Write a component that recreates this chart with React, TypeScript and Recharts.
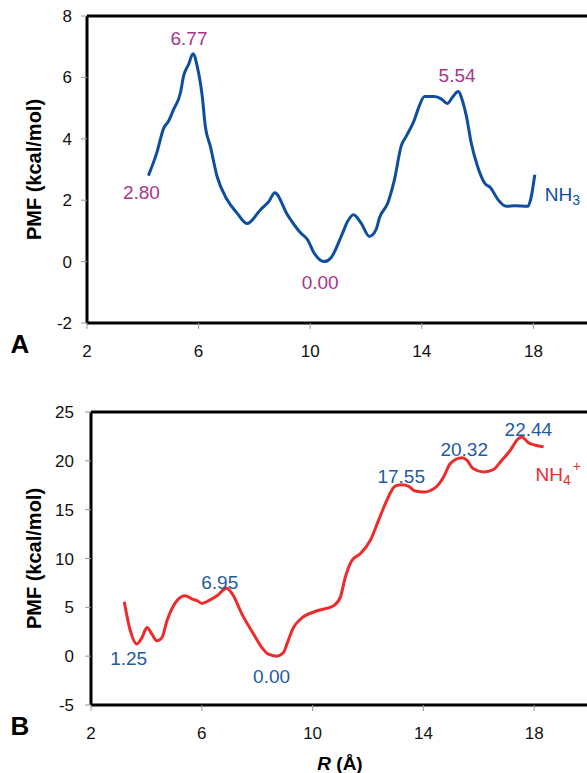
import React from "react";
import {
  LineChart,
  Line,
  XAxis,
  YAxis,
  ReferenceDot,
  ReferenceLine,
} from "recharts";

const FONT = '"Liberation Sans", Arial, sans-serif';

// panel A: NH3
const rA = [
  4.2, 4.5, 4.75, 4.92, 5.1, 5.35, 5.46, 5.64, 5.8, 5.95, 6.13, 6.24, 6.42, 6.66,
  7.02, 7.38, 7.74, 8.22, 8.52, 8.73, 9.18, 9.66, 9.9, 10.14, 10.5, 10.74, 11.16,
  11.34, 11.55, 11.82, 12.12, 12.36, 12.48, 12.78, 13.02, 13.26, 13.44, 13.74,
  13.86, 14.1, 14.45, 14.7, 14.91, 15.12, 15.3, 15.48, 15.6, 15.77, 16.0, 16.25,
  16.47, 16.73, 17.03, 17.33, 17.8, 17.9, 18.05,
];
const pmfA = [
  2.8, 3.54, 4.35, 4.57, 4.95, 5.5, 6.04, 6.42, 6.77, 6.36, 5.39, 4.41, 3.76, 2.78,
  2.02, 1.58, 1.24, 1.69, 1.96, 2.24, 1.53, 0.93, 0.72, 0.28, 0.0, 0.12, 0.93,
  1.31, 1.53, 1.26, 0.82, 1.04, 1.42, 1.91, 2.67, 3.76, 4.08, 4.63,
  4.95, 5.38, 5.38, 5.3, 5.15, 5.38, 5.54, 5.17, 4.73, 3.87, 3.1, 2.56,
  2.4, 2.02, 1.8, 1.82, 1.8, 2.02, 2.83,
];
const marksA = [
  { r: 4.2, pmf: 2.8 },
  { r: 5.8, pmf: 6.77 },
  { r: 10.5, pmf: 0.0 },
  { r: 15.3, pmf: 5.54 },
];
const ticksYA = [-2, 0, 2, 4, 6, 8];

// panel B: NH4+
const rB = [
  3.2, 3.42, 3.65, 3.84, 4.02, 4.2, 4.38, 4.56, 4.74, 5.1, 5.4, 5.65, 5.83, 6.0,
  6.25, 6.55, 6.9, 7.1, 7.45, 7.87, 8.17, 8.41, 8.7, 8.95, 9.07, 9.31, 9.56,
  10.16, 10.76, 11.0, 11.18, 11.42, 11.72, 12.08, 12.38, 12.68, 12.98, 13.2,
  13.46, 13.7, 14.0, 14.43, 14.73, 14.97, 15.4, 15.57, 15.79, 16.17, 16.53,
  16.78, 17.14, 17.4, 17.55, 17.8, 18.04, 18.34,
];
const pmfB = [
  5.58, 2.6, 1.25, 1.9, 2.93, 2.25, 1.57, 1.9, 3.6, 5.68, 6.19, 5.85, 5.68, 5.4,
  5.68, 6.19, 6.95, 6.37, 4.31, 2.26, 0.88, 0.2, 0.0, 0.37, 1.22, 2.93, 3.78,
  4.65, 5.17, 6.02, 8.08, 9.79, 10.48, 11.84, 13.9, 15.96, 17.4, 17.55,
  17.4, 16.91, 16.8, 17.26, 18.35, 19.72, 20.32, 20.07, 19.21, 18.86, 19.11,
  19.89, 21.09, 22.2, 22.44, 21.84, 21.6, 21.43,
];
const marksB = [
  { r: 3.65, pmf: 1.25 },
  { r: 6.9, pmf: 6.95 },
  { r: 8.7, pmf: 0.0 },
  { r: 13.2, pmf: 17.55 },
  { r: 15.4, pmf: 20.32 },
  { r: 17.5, pmf: 22.44 },
];
const ticksYB = [-5, 0, 5, 10, 15, 20, 25];

const ticksX = [2, 6, 10, 14, 18];

const dataA = rA.map((r, i) => ({ r, pmf: pmfA[i] }));
const dataB = rB.map((r, i) => ({ r, pmf: pmfB[i] }));

// label offsets (px) from each marked point
const offA = [
  [-7, 17],
  [-4, -15],
  [-4, 21],
  [-1, -16],
];
const offB = [
  [-8, 15],
  [-7, -6],
  [-5, 20],
  [0, -8],
  [2, -8],
  [8, -8],
];

const valueLabel = (text: string, dx: number, dy: number, color: string) => (props: any) => {
  const vb = props.viewBox || {};
  return (
    <text
      x={vb.x + dx}
      y={vb.y + dy}
      textAnchor="middle"
      dominantBaseline="central"
      fontSize={19}
      fontFamily={FONT}
      fill={color}
    >
      {text}
    </text>
  );
};

const speciesLabel = (kind: "A" | "B", dx: number, dy: number, color: string) => (props: any) => {
  const vb = props.viewBox || {};
  return (
    <text
      x={vb.x + dx}
      y={vb.y + dy}
      dominantBaseline="central"
      fontSize={19}
      fontFamily={FONT}
      fill={color}
    >
      NH
      <tspan fontSize={14} dy={5}>
        {kind === "A" ? "3" : "4"}
      </tspan>
      {kind === "B" && (
        <tspan fontSize={14} dy={-14} dx={2}>
          +
        </tspan>
      )}
    </text>
  );
};

const yLabel = (props: any) => {
  const vb = props.viewBox || {};
  const cx = vb.x + 34;
  const cy = vb.y + vb.height / 2;
  return (
    <text
      x={cx}
      y={cy}
      transform={`rotate(-90, ${cx}, ${cy})`}
      textAnchor="middle"
      dominantBaseline="central"
      fontSize={20}
      fontWeight="bold"
      fontFamily={FONT}
      fill="#000"
    >
      PMF (kcal/mol)
    </text>
  );
};

const xLabel = (panel: string, withR: boolean) => (props: any) => {
  const vb = props.viewBox || {};
  return (
    <g>
      <text
        x={20}
        y={vb.y + 21}
        textAnchor="middle"
        dominantBaseline="central"
        fontSize={26}
        fontWeight="bold"
        fontFamily={FONT}
        fill="#000"
      >
        {panel}
      </text>
      {withR && (
        <text
          x={340}
          y={vb.y + 58}
          textAnchor="middle"
          dominantBaseline="central"
          fontSize={19}
          fontWeight="bold"
          fontFamily={FONT}
          fill="#000"
        >
          <tspan fontStyle="italic">R</tspan> (Å)
        </text>
      )}
    </g>
  );
};

const axisLine = { stroke: "#000", strokeWidth: 3 };
const tickLine = { stroke: "#999", strokeWidth: 1 };
const tick = { fontSize: 17, fill: "#111", fontFamily: FONT };

export default function App() {
  return (
    <div
      style={{
        position: "fixed",
        left: 0,
        top: 0,
        width: 587,
        height: 773,
        overflow: "hidden",
        background: "#fff",
      }}
    >
      <div style={{ position: "absolute", left: 0, top: 0 }}>
        <LineChart
          width={660}
          height={360}
          data={dataA}
          margin={{ top: 16, right: 15, bottom: 7, left: 0 }}
        >
          <XAxis
            type="number"
            dataKey="r"
            domain={[2, 22]}
            ticks={ticksX}
            allowDataOverflow
            height={30}
            axisLine={axisLine}
            tickLine={tickLine}
            tickSize={6}
            tickMargin={16}
            tick={tick}
            label={{ content: xLabel("A", false) }}
          />
          <YAxis
            type="number"
            domain={[-2, 8]}
            ticks={ticksYA}
            allowDataOverflow
            width={87}
            axisLine={axisLine}
            tickLine={tickLine}
            tickSize={6}
            tickMargin={9}
            tick={tick}
            label={{ content: yLabel }}
          />
          <ReferenceLine y={8} stroke="#000" strokeWidth={3} />
          <ReferenceLine x={22} stroke="#000" strokeWidth={3} />
          <Line
            type="monotone"
            dataKey="pmf"
            stroke="#0d4f9e"
            strokeWidth={3}
            dot={false}
            isAnimationActive={false}
          />
          {marksA.map((m, i) => (
            <ReferenceDot
              key={i}
              x={m.r}
              y={m.pmf}
              r={0}
              fill="none"
              stroke="none"
              label={{ content: valueLabel(m.pmf.toFixed(2), offA[i][0], offA[i][1], "#a8368e") }}
            />
          ))}
          <ReferenceDot
            x={rA[rA.length - 1]}
            y={pmfA[pmfA.length - 1]}
            r={0}
            fill="none"
            stroke="none"
            label={{ content: speciesLabel("A", 10, 20, "#0d4f9e") }}
          />
        </LineChart>
      </div>
      <div style={{ position: "absolute", left: 0, top: 396 }}>
        <LineChart
          width={660}
          height={377}
          data={dataB}
          margin={{ top: 16, right: 15, bottom: 38, left: 0 }}
        >
          <XAxis
            type="number"
            dataKey="r"
            domain={[2, 22]}
            ticks={ticksX}
            allowDataOverflow
            height={30}
            axisLine={axisLine}
            tickLine={tickLine}
            tickSize={6}
            tickMargin={16}
            tick={tick}
            label={{ content: xLabel("B", true) }}
          />
          <YAxis
            type="number"
            domain={[-5, 25]}
            ticks={ticksYB}
            allowDataOverflow
            width={91}
            axisLine={axisLine}
            tickLine={tickLine}
            tickSize={6}
            tickMargin={11}
            tick={tick}
            label={{ content: yLabel }}
          />
          <ReferenceLine y={25} stroke="#000" strokeWidth={3} />
          <ReferenceLine x={22} stroke="#000" strokeWidth={3} />
          <Line
            type="monotone"
            dataKey="pmf"
            stroke="#ee2b2b"
            strokeWidth={3}
            dot={false}
            isAnimationActive={false}
          />
          {marksB.map((m, i) => (
            <ReferenceDot
              key={i}
              x={m.r}
              y={m.pmf}
              r={0}
              fill="none"
              stroke="none"
              label={{ content: valueLabel(m.pmf.toFixed(2), offB[i][0], offB[i][1], "#1f5aa8") }}
            />
          ))}
          <ReferenceDot
            x={rB[rB.length - 1]}
            y={pmfB[pmfB.length - 1]}
            r={0}
            fill="none"
            stroke="none"
            label={{ content: speciesLabel("B", -8, 28, "#ee2b2b") }}
          />
        </LineChart>
      </div>
    </div>
  );
}
